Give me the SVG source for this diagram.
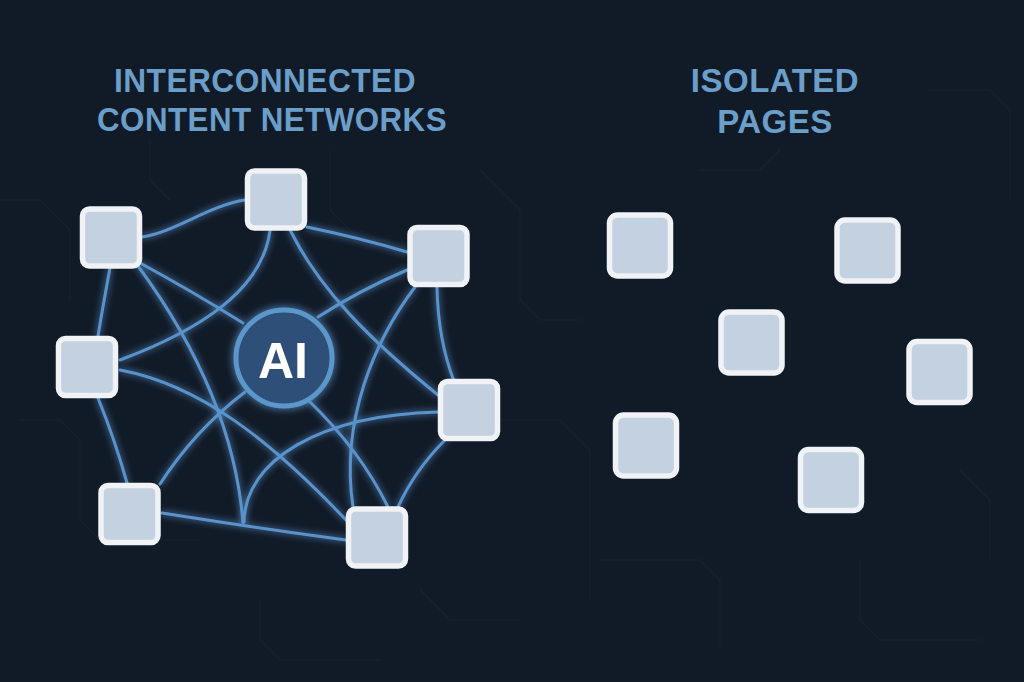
<svg xmlns="http://www.w3.org/2000/svg" width="1024" height="682" viewBox="0 0 1024 682">
  <defs>
    <style>
      .title { font-family: "Liberation Sans", Arial, sans-serif; font-weight: bold; font-size: 33px; fill: #6b9fc9; text-anchor: middle; letter-spacing: 0.5px; }
      .edge { fill: none; stroke: #5a93cc; stroke-width: 3; stroke-linecap: round; }
      .page { fill: #c3d1e0; stroke: #f0f2f5; stroke-width: 5.5; }
      .trace { fill: none; stroke: #172130; stroke-width: 1.2; }
    </style>
    <filter id="glow" x="-20%" y="-20%" width="140%" height="140%">
      <feGaussianBlur in="SourceGraphic" stdDeviation="3.5" result="b"/>
      <feMerge>
        <feMergeNode in="b"/>
        <feMergeNode in="SourceGraphic"/>
      </feMerge>
    </filter>
    <filter id="soft" x="-30%" y="-30%" width="160%" height="160%">
      <feGaussianBlur in="SourceGraphic" stdDeviation="4" result="b"/>
      <feMerge>
        <feMergeNode in="b"/>
        <feMergeNode in="SourceGraphic"/>
      </feMerge>
    </filter>
  </defs>

  <rect width="1024" height="682" fill="#111a27"/>

  <g id="background-traces">
    <path class="trace" d="M0,200 H40 L70,230 V300"/>
    <path class="trace" d="M20,420 H60 L80,440 V520 L100,540 H200"/>
    <path class="trace" d="M150,140 V180 L170,200"/>
    <path class="trace" d="M330,150 V210 L360,240 H390"/>
    <path class="trace" d="M480,170 L520,210 V300 L540,320 H580"/>
    <path class="trace" d="M500,420 H560 L590,450 V600"/>
    <path class="trace" d="M260,600 V640 L280,660 H380"/>
    <path class="trace" d="M420,590 L450,620 H520"/>
    <path class="trace" d="M600,560 H700 L720,580 V650"/>
    <path class="trace" d="M860,560 V620 L880,640 H980"/>
    <path class="trace" d="M930,90 H990 L1010,110 V200"/>
    <path class="trace" d="M960,470 L990,500 V560"/>
    <path class="trace" d="M700,170 H760 L780,150"/>
  </g>

  <g id="titles">
    <text class="title" x="265" y="92" textLength="302" lengthAdjust="spacingAndGlyphs">INTERCONNECTED</text>
    <text class="title" x="272" y="131" textLength="350" lengthAdjust="spacingAndGlyphs">CONTENT NETWORKS</text>
    <text class="title" x="775" y="92">ISOLATED</text>
    <text class="title" x="775" y="133">PAGES</text>
  </g>

  <g id="connectors" filter="url(#glow)">
    <path class="edge" d="M142,237 C175,232 210,205 245,200"/>
    <path class="edge" d="M307,227 Q360,238 407,252"/>
    <path class="edge" d="M110,268 Q104,300 98,336"/>
    <path class="edge" d="M98,398 Q115,440 127,483"/>
    <path class="edge" d="M437,287 Q438,340 454,381"/>
    <path class="edge" d="M445,440 Q415,470 398,507"/>
    <path class="edge" d="M162,513 Q250,527 346,540"/>
    <path class="edge" d="M140,263 Q190,290 243,323"/>
    <path class="edge" d="M138,266 C185,330 235,420 243,523"/>
    <path class="edge" d="M270,231 C262,290 200,330 120,360"/>
    <path class="edge" d="M290,230 C320,290 370,340 438,395"/>
    <path class="edge" d="M407,270 Q360,290 318,317"/>
    <path class="edge" d="M415,287 C375,340 340,420 353,507"/>
    <path class="edge" d="M120,370 C200,385 270,440 346,520"/>
    <path class="edge" d="M245,392 Q195,430 160,484"/>
    <path class="edge" d="M244,522 C245,460 320,415 438,412"/>
    <path class="edge" d="M308,400 Q360,450 388,507"/>
  </g>

  <g id="ai-hub" filter="url(#soft)">
    <circle cx="284" cy="358" r="48" fill="#2d5078" stroke="#5b97cc" stroke-width="5"/>
    <text x="283" y="378" font-family="Liberation Sans, Arial, sans-serif" font-weight="bold" font-size="50" fill="#ffffff" text-anchor="middle">AI</text>
  </g>

  <g id="node-n1"><rect class="page" x="82.5" y="209" width="57" height="57" rx="7"/></g>
  <g id="node-n2"><rect class="page" x="247.5" y="171" width="57" height="57" rx="7"/></g>
  <g id="node-n3"><rect class="page" x="410" y="227.5" width="57" height="57" rx="7"/></g>
  <g id="node-n4"><rect class="page" x="58.5" y="338.5" width="57" height="57" rx="7"/></g>
  <g id="node-n5"><rect class="page" x="440.5" y="381.5" width="57" height="57" rx="7"/></g>
  <g id="node-n6"><rect class="page" x="101" y="485.5" width="57" height="57" rx="7"/></g>
  <g id="node-n7"><rect class="page" x="348.5" y="509" width="57" height="57" rx="7"/></g>

  <g id="node-r1"><rect class="page" x="609.5" y="215" width="61" height="61" rx="8"/></g>
  <g id="node-r2"><rect class="page" x="837" y="220" width="61" height="61" rx="8"/></g>
  <g id="node-r3"><rect class="page" x="721" y="312" width="61" height="61" rx="8"/></g>
  <g id="node-r4"><rect class="page" x="909" y="341.5" width="61" height="61" rx="8"/></g>
  <g id="node-r5"><rect class="page" x="615.5" y="415" width="61" height="61" rx="8"/></g>
  <g id="node-r6"><rect class="page" x="800.5" y="449.5" width="61" height="61" rx="8"/></g>
</svg>
